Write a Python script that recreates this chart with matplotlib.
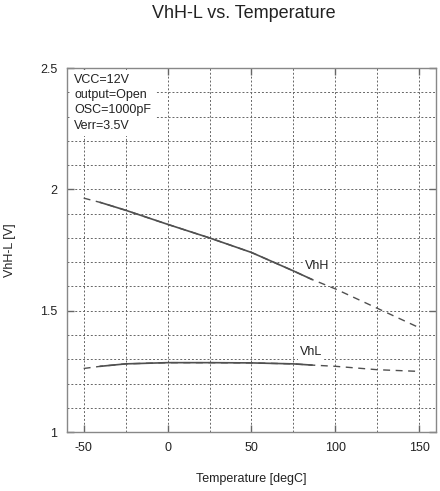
import matplotlib
matplotlib.use("Agg")
import matplotlib.pyplot as plt
from matplotlib.ticker import MultipleLocator

plt.rcParams['font.family'] = ['Liberation Sans', 'DejaVu Sans']
plt.rcParams['axes.unicode_minus'] = False

temps = [-50, -40, -25, 0, 25, 50, 75, 86, 100, 125, 150]
vhh = [1.964, 1.946, 1.914, 1.856, 1.800, 1.740, 1.664, 1.629, 1.590, 1.510, 1.430]
vhl = [1.262, 1.271, 1.281, 1.286, 1.286, 1.285, 1.281, 1.276, 1.271, 1.257, 1.250]
solid_from, solid_to = 1, 7  # index range drawn solid

conditions = ["VCC=12V", "output=Open", "OSC=1000pF", "Verr=3.5V"]
title = "VhH-L vs. Temperature"
xlabel = "Temperature [degC]"
ylabel = "VhH-L [V]"

fig = plt.figure(figsize=(4.4, 4.91), dpi=100)
ax = fig.add_axes([0.152, 0.120, 0.839, 0.7415])

line_color = '#505050'
for series in (vhh, vhl):
    ax.plot(temps, series, color=line_color, lw=1.0, ls=(0, (5, 4)))
    ax.plot(temps[solid_from:solid_to + 1], series[solid_from:solid_to + 1],
            color=line_color, lw=1.2, ls='-')

ax.set_xlim(-60, 160)
ax.set_ylim(1, 2.5)
ax.xaxis.set_major_locator(MultipleLocator(50))
ax.xaxis.set_minor_locator(MultipleLocator(25))
ax.yaxis.set_major_locator(MultipleLocator(0.5))
ax.yaxis.set_minor_locator(MultipleLocator(0.1))
ax.set_yticks([1, 1.5, 2, 2.5])
ax.set_yticklabels(['1', '1.5', '2', '2.5'])

ax.grid(True, which='both', color='#666666', ls=(0, (2, 2)), lw=0.7)
ax.set_axisbelow(True)

for sp in ax.spines.values():
    sp.set_color('#888888')
    sp.set_linewidth(1.0)

ax.tick_params(which='major', direction='in', length=5, width=1.0, color='#666666',
               top=True, right=True, labelsize=9, pad=7, labelcolor='#222222')
ax.tick_params(which='minor', length=0)

ax.set_title(title, fontsize=13, pad=36, color='#222222', x=0.48)
ax.set_xlabel(xlabel, fontsize=9, labelpad=14, color='#222222')
ax.set_ylabel(ylabel, fontsize=9, labelpad=17, color='#222222')

box = dict(facecolor='white', edgecolor='none', pad=1.5)
ax.text(-55.5, 2.475, "\n".join(conditions), fontsize=9, va='top', ha='left',
        linespacing=1.35, color='#222222', bbox=dict(facecolor='white', edgecolor='none', pad=3))
ax.text(82, 1.684, "VhH", fontsize=9, va='center', ha='left', color='#222222', bbox=box)
ax.text(79, 1.33, "VhL", fontsize=9, va='center', ha='left', color='#222222', bbox=box)

fig.savefig("out.png", dpi=100)
